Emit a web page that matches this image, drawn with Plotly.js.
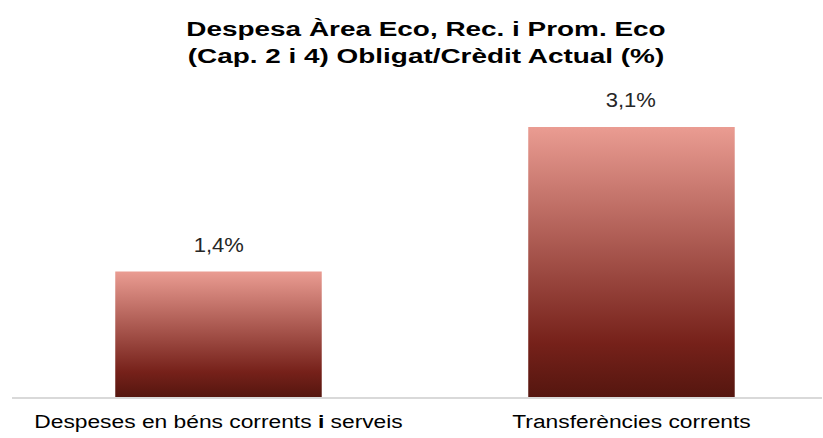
<!DOCTYPE html>
<html>
<head>
<meta charset="utf-8">
<script src="https://cdn.plot.ly/plotly-3.0.1.min.js"></script>
<style>
  html, body { margin: 0; padding: 0; background: #fff; }
  #chart { width: 823px; height: 438px; }
</style>
</head>
<body>
<div id="chart"></div>
<script>
// ---- data ----
const categories = ['Despeses en béns corrents i serveis', 'Transferències corrents'];
const tickLabels = ['Despeses en béns corrents <b>i</b> serveis', 'Transferències corrents'];
const values = [1.44, 3.10];
const titleText = 'Despesa Àrea Eco, Rec. i Prom. Eco<br>(Cap. 2 i 4) Obligat/Crèdit Actual (%)';

// ---- style ----
const FONT = '"Liberation Sans", Arial, Helvetica, sans-serif';
const gradStops = [[0, '#EA9C92'], [0.8, '#76211A'], [1, '#55160F']];

const labelText = values.map(v => v.toFixed(1).replace('.', ',') + '%');

const trace = {
  type: 'bar',
  x: categories,
  y: values,
  marker: { color: '#8a3a30', line: { width: 0 } },
  hoverinfo: 'skip'
};

const annotations = categories.map((c, i) => ({
  x: c, y: values[i], xref: 'x', yref: 'y',
  text: labelText[i], showarrow: false,
  yanchor: 'bottom', yshift: 14,
  font: { family: FONT, size: 20, color: '#262626' }
}));

const layout = {
  width: 823, height: 438,
  margin: { l: 12, r: 1, t: 100, b: 41, pad: 0 },
  paper_bgcolor: '#ffffff', plot_bgcolor: '#ffffff',
  showlegend: false,
  bargap: 0.5,
  title: {
    text: titleText,
    font: { family: FONT, size: 21, color: '#000000', weight: 'bold' },
    x: 0.5176, xref: 'container', xanchor: 'center',
    y: 0.918, yref: 'container', yanchor: 'top'
  },
  xaxis: {
    type: 'category',
    range: [-0.5, 1.4613],
    tickvals: categories, ticktext: tickLabels,
    showline: true, linecolor: '#d9d9d9', linewidth: 2,
    ticks: '', showgrid: false, zeroline: false,
    ticklabelstandoff: 6,
    tickfont: { family: FONT, size: 19, color: '#000000' },
    fixedrange: true
  },
  yaxis: {
    range: [0, 3.41],
    visible: false, showgrid: false, zeroline: false, fixedrange: true
  },
  annotations: annotations
};

const gd = document.getElementById('chart');
Plotly.newPlot(gd, [trace], layout, { staticPlot: true, displayModeBar: false }).then(() => {
  const NS = 'http://www.w3.org/2000/svg';
  const svg = gd.querySelector('.main-svg');
  let defs = svg.querySelector('defs');
  if (!defs) { defs = document.createElementNS(NS, 'defs'); svg.insertBefore(defs, svg.firstChild); }
  const lg = document.createElementNS(NS, 'linearGradient');
  lg.setAttribute('id', 'barGrad');
  lg.setAttribute('x1', '0'); lg.setAttribute('y1', '0');
  lg.setAttribute('x2', '0'); lg.setAttribute('y2', '1');
  gradStops.forEach(s => {
    const st = document.createElementNS(NS, 'stop');
    st.setAttribute('offset', s[0]);
    st.setAttribute('stop-color', s[1]);
    lg.appendChild(st);
  });
  defs.appendChild(lg);
  gd.querySelectorAll('.bars .point path').forEach(p => {
    p.style.fill = 'url(#barGrad)';
    p.style.fillOpacity = 1;
  });

  // widen text horizontally to match reference rendering
  function widen(sel, s) {
    gd.querySelectorAll(sel).forEach(t => {
      let x = parseFloat(t.getAttribute('x'));
      if (isNaN(x)) x = 0;
      const ex = t.getAttribute('transform') || '';
      t.setAttribute('transform', ex + ' translate(' + x + ',0) scale(' + s + ',1) translate(' + (-x) + ',0)');
    });
  }
  widen('.gtitle', 1.33);
  widen('.xtick text', 1.2);
  widen('.annotation-text', 1.1);
});
</script>
</body>
</html>
